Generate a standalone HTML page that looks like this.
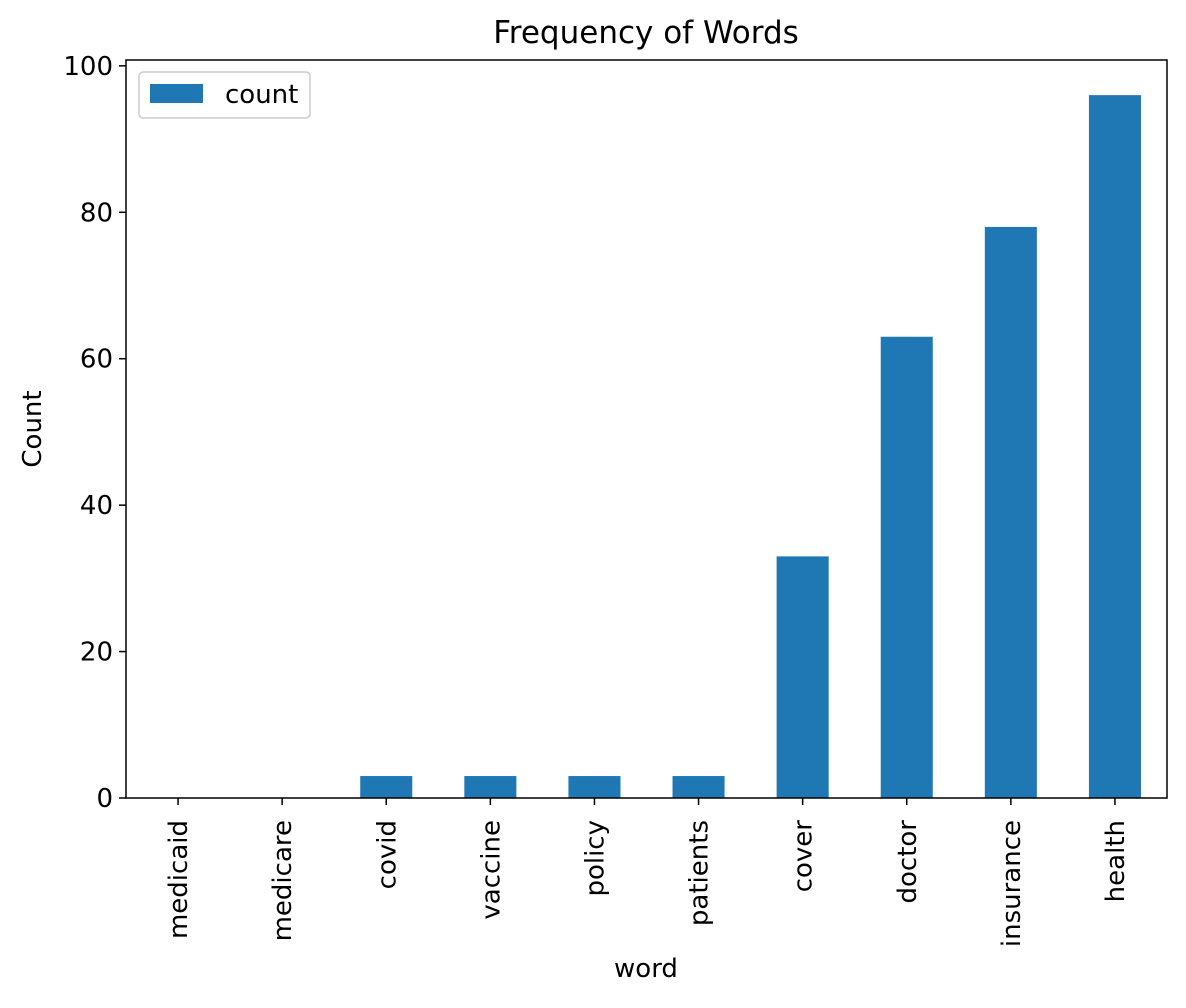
<!DOCTYPE html>
<html><head><meta charset="utf-8"><style>
body{margin:0;background:#fff}
svg text{font-family:"DejaVu Sans","Liberation Sans",sans-serif;fill:#000}
</style></head><body>
<svg id="chart" width="1186" height="1003" xmlns="http://www.w3.org/2000/svg">
<rect width="1186" height="1003" fill="#fff"/>
<text x="646" y="43" font-size="31" text-anchor="middle">Frequency of Words</text>
<text x="646" y="977" font-size="26" text-anchor="middle">word</text>
<text transform="translate(41,429) rotate(-90)" font-size="26" text-anchor="middle">Count</text>
<g id="bars"></g><g id="axes"></g>
<rect x="126" y="60" width="1041" height="738" fill="none" stroke="#000" stroke-width="1.5"/>
<g>
<rect x="139" y="72" width="171" height="46" rx="4" fill="#fff" stroke="#ccc" stroke-width="1.5"/>
<rect x="150" y="84" width="53" height="19" fill="#1f77b4"/>
<text x="225" y="103" font-size="26">count</text>
</g>
</svg>
<script>
const categories=["medicaid","medicare","covid","vaccine","policy","patients","cover","doctor","insurance","health"];
const counts=[0,0,3,3,3,3,33,63,78,96];
const yTicks=[0,20,40,60,80,100];
const L=126,R=1167,T=60,B=798,YMAX=100.8;
const xs=i=>L+(i+0.5)*(R-L)/categories.length;
const ys=v=>B-v/YMAX*(B-T);
const NS="http://www.w3.org/2000/svg";
const bars=document.getElementById('bars'),axes=document.getElementById('axes');
const bw=(R-L)/categories.length*0.5;
categories.forEach((c,i)=>{
 const r=document.createElementNS(NS,'rect');
 r.setAttribute('x',xs(i)-bw/2);r.setAttribute('y',ys(counts[i]));
 r.setAttribute('width',bw);r.setAttribute('height',B-ys(counts[i]));
 r.setAttribute('fill','#1f77b4');
 
 
 bars.appendChild(r);
 const t=document.createElementNS(NS,'line');
 t.setAttribute('x1',xs(i));t.setAttribute('x2',xs(i));t.setAttribute('y1',B);t.setAttribute('y2',B+7);t.setAttribute('stroke','#000');t.setAttribute('stroke-width','1.5');
 
 
 axes.appendChild(t);
 const lb=document.createElementNS(NS,'text');
 lb.setAttribute('transform',`translate(${xs(i)+9},${B+22}) rotate(-90)`);
 lb.setAttribute('text-anchor','end');lb.setAttribute('font-size','26');lb.textContent=c;
 
 
 axes.appendChild(lb);
});
yTicks.forEach(v=>{
 const t=document.createElementNS(NS,'line');
 t.setAttribute('x1',L-7);t.setAttribute('x2',L);t.setAttribute('y1',ys(v));t.setAttribute('y2',ys(v));t.setAttribute('stroke','#000');t.setAttribute('stroke-width','1.5');
 
 
 axes.appendChild(t);
 const lb=document.createElementNS(NS,'text');
 lb.setAttribute('x',L-13);lb.setAttribute('y',ys(v)+9);lb.setAttribute('text-anchor','end');lb.setAttribute('font-size','26');lb.textContent=v;
 
 
 axes.appendChild(lb);
});
</script>
</body></html>
